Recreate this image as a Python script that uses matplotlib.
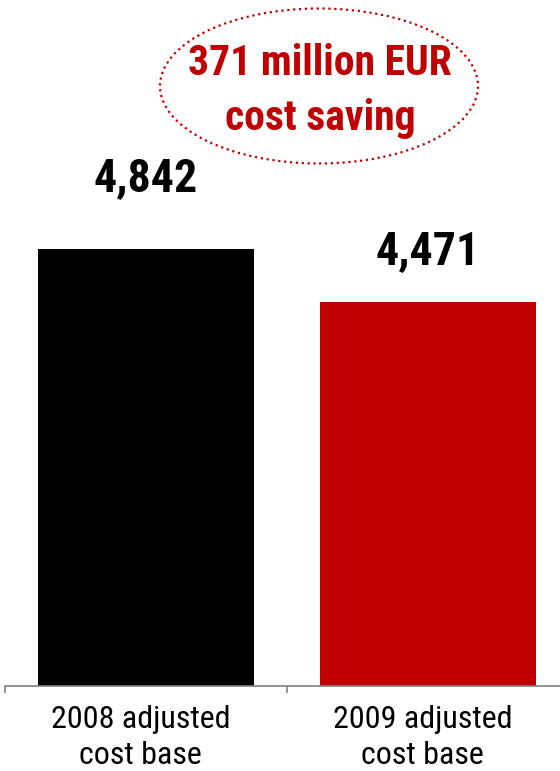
import matplotlib
matplotlib.use("Agg")
import matplotlib.pyplot as plt
from matplotlib.patches import Ellipse

categories = ["2008 adjusted\ncost base", "2009 adjusted\ncost base"]
values = [4842, 4471]
value_labels = ["4,842", "4,471"]
colors = ["#000000", "#C00000"]
callout = "371 million EUR\ncost saving"

W, H = 560, 771
FONT = ["Roboto Condensed", "Liberation Sans", "DejaVu Sans"]
RED = "#C00000"
label_offsets = [51, 37]  # points above bar top

fig = plt.figure(figsize=(W / 100, H / 100), dpi=100)
fig.patch.set_facecolor("white")
# axes run a little past the right edge, like the original slide
ax = fig.add_axes([5 / W, 1 - 686 / H, 564 / W, 686 / H])
ax.set_facecolor("none")

x = list(range(len(values)))
ax.bar(x, values, width=0.766, color=colors, zorder=2)
ax.set_xlim(-0.5, 1.5)
ax.set_ylim(1780, 6590)

for s in ["top", "right", "left"]:
    ax.spines[s].set_visible(False)
ax.spines["bottom"].set_color("#808080")
ax.spines["bottom"].set_linewidth(1.2)
ax.set_yticks([])
ax.set_xticks(x)
ax.set_xticklabels([])
ax.tick_params(axis="x", which="major", length=0)
ax.set_xticks([-0.5, 0.5, 1.5], minor=True)
ax.tick_params(axis="x", which="minor", length=5, color="#808080", width=1.2)

for xi, v, lab, off in zip(x, values, value_labels, label_offsets):
    ax.annotate(lab, (xi, v), xytext=(0, off), textcoords="offset points",
                ha="center", va="center", fontsize=33, fontweight="bold",
                family=FONT, color="black")

for xi, cat in zip(x, categories):
    ax.annotate(cat, (xi, 0), xycoords=("data", "axes fraction"),
                xytext=(-4, -37), textcoords="offset points",
                ha="center", va="center", fontsize=23, family=FONT,
                linespacing=1.3, color="black")

# dotted callout ellipse
fig.add_artist(Ellipse((319 / W, 1 - 86 / H), 318 / W, 155 / H,
                       transform=fig.transFigure, fc="none", ec=RED,
                       lw=1.6, ls=":"))
fig.text(320 / W, 1 - 91 / H, callout, ha="center", va="center",
         fontsize=30, fontweight="bold", family=FONT, color=RED,
         linespacing=1.45)

fig.savefig("out.png", dpi=100, facecolor="white")
